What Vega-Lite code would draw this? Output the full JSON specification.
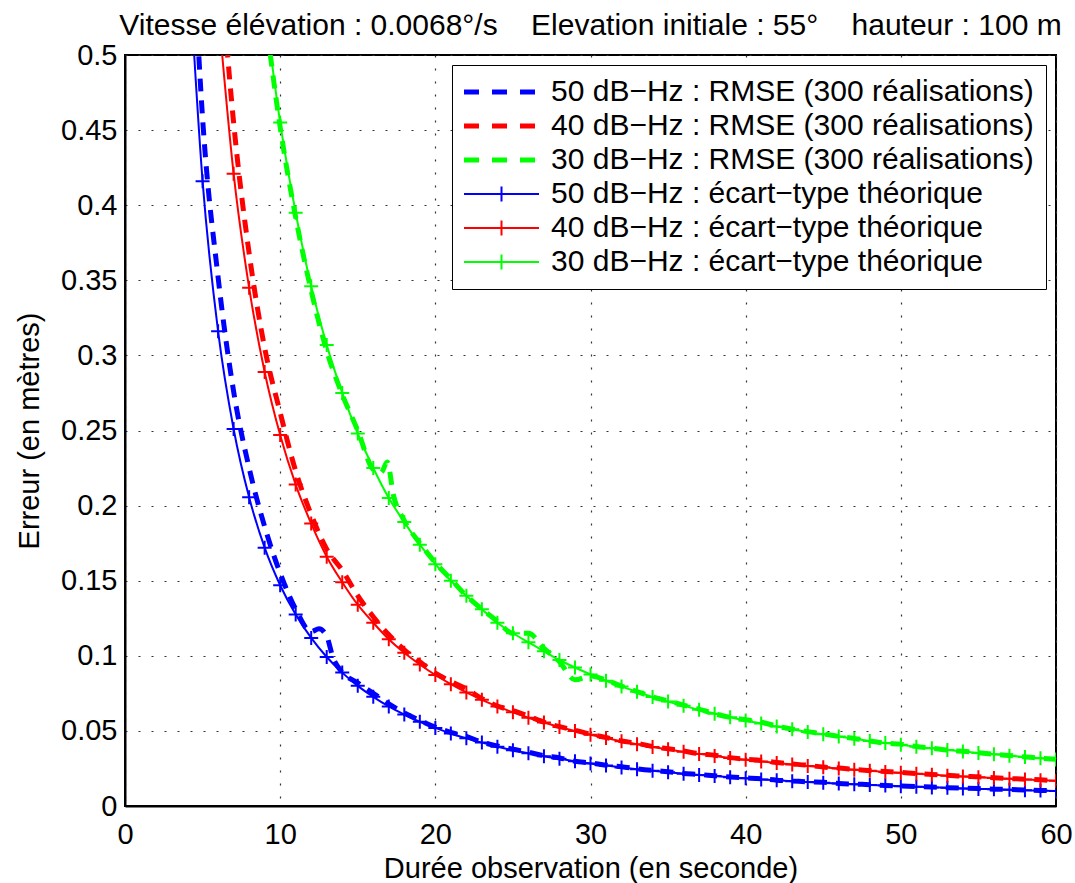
{
  "$schema": "https://vega.github.io/schema/vega-lite/v6.json",
  "width": 931,
  "height": 751,
  "autosize": {"type": "none"},
  "padding": {"left": 125, "top": 55, "right": 19, "bottom": 77},
  "background": "white",
  "title": {
    "text": "Vitesse élévation : 0.0068°/s\u00a0\u00a0\u00a0\u00a0Elevation initiale : 55°\u00a0\u00a0\u00a0\u00a0hauteur : 100 m",
    "fontSize": 30, "fontWeight": "normal", "color": "black", "offset": 0, "anchor": "middle", "limit": 0
  },
  "config": {
    "font": "Liberation Sans",
    "view": {"stroke": "black", "strokeWidth": 2}
  },
  "datasets": {
    "rmse": [
      {"t": 4, "rb": 0.66},
      {"t": 5, "rb": 0.458},
      {"t": 6, "rb": 0.352, "rr": 0.58},
      {"t": 7, "rb": 0.276, "rr": 0.455},
      {"t": 8, "rb": 0.225, "rr": 0.368},
      {"t": 9, "rb": 0.186, "rr": 0.305, "rg": 0.53},
      {"t": 10, "rb": 0.155, "rr": 0.262, "rg": 0.452},
      {"t": 11, "rb": 0.131, "rr": 0.223, "rg": 0.392},
      {"t": 12, "rb": 0.116, "rr": 0.194, "rg": 0.343},
      {"t": 12.5, "rb": 0.118},
      {"t": 13, "rb": 0.113, "rr": 0.171, "rg": 0.303},
      {"t": 13.4, "rb": 0.099},
      {"t": 14, "rb": 0.089, "rr": 0.157, "rg": 0.274},
      {"t": 15, "rb": 0.082, "rr": 0.140, "rg": 0.250},
      {"t": 16, "rb": 0.075, "rr": 0.126, "rg": 0.224},
      {"t": 16.5, "rg": 0.222},
      {"t": 16.9, "rg": 0.229},
      {"t": 17, "rb": 0.068, "rr": 0.114},
      {"t": 17.3, "rg": 0.207},
      {"t": 18, "rb": 0.062, "rr": 0.104, "rg": 0.190},
      {"t": 19, "rb": 0.057, "rr": 0.096, "rg": 0.175},
      {"t": 20, "rb": 0.0525, "rr": 0.0885, "rg": 0.162},
      {"t": 21, "rb": 0.049, "rr": 0.083, "rg": 0.151},
      {"t": 22, "rb": 0.0463, "rr": 0.078, "rg": 0.140},
      {"t": 23, "rb": 0.0425, "rr": 0.0715, "rg": 0.131},
      {"t": 24, "rb": 0.040, "rr": 0.0665, "rg": 0.123},
      {"t": 25, "rb": 0.0378, "rr": 0.0635, "rg": 0.115},
      {"t": 26, "rb": 0.0358, "rr": 0.0598, "rg": 0.115},
      {"t": 27, "rb": 0.0335, "rr": 0.0558, "rg": 0.105},
      {"t": 28, "rb": 0.032, "rr": 0.0528, "rg": 0.096},
      {"t": 29, "rb": 0.0298, "rr": 0.0505, "rg": 0.084},
      {"t": 30, "rb": 0.0287, "rr": 0.0478, "rg": 0.0865},
      {"t": 31, "rb": 0.0272, "rr": 0.0456, "rg": 0.0838},
      {"t": 32, "rb": 0.0262, "rr": 0.0433, "rg": 0.0798},
      {"t": 33, "rb": 0.0248, "rr": 0.0418, "rg": 0.0762},
      {"t": 34, "rb": 0.0237, "rr": 0.0396, "rg": 0.0726},
      {"t": 35, "rb": 0.0228, "rr": 0.0381, "rg": 0.0700},
      {"t": 36, "rb": 0.0217, "rr": 0.0366, "rg": 0.0672},
      {"t": 37, "rb": 0.0210, "rr": 0.0348, "rg": 0.0645},
      {"t": 38, "rb": 0.0201, "rr": 0.0338, "rg": 0.0614},
      {"t": 39, "rb": 0.0193, "rr": 0.0322, "rg": 0.0590},
      {"t": 40, "rb": 0.0187, "rr": 0.0311, "rg": 0.0574},
      {"t": 41, "rb": 0.0181, "rr": 0.0303, "rg": 0.0558},
      {"t": 42, "rb": 0.0172, "rr": 0.0289, "rg": 0.0532},
      {"t": 43, "rb": 0.0167, "rr": 0.0280, "rg": 0.0512},
      {"t": 44, "rb": 0.0161, "rr": 0.0271, "rg": 0.0495},
      {"t": 45, "rb": 0.0158, "rr": 0.0259, "rg": 0.0480},
      {"t": 46, "rb": 0.0150, "rr": 0.0253, "rg": 0.0463},
      {"t": 47, "rb": 0.0146, "rr": 0.0243, "rg": 0.0450},
      {"t": 48, "rb": 0.0142, "rr": 0.0236, "rg": 0.0433},
      {"t": 49, "rb": 0.0137, "rr": 0.0230, "rg": 0.0418},
      {"t": 50, "rb": 0.0134, "rr": 0.0224, "rg": 0.0412},
      {"t": 51, "rb": 0.0129, "rr": 0.0216, "rg": 0.0396},
      {"t": 52, "rb": 0.0126, "rr": 0.0210, "rg": 0.0385},
      {"t": 53, "rb": 0.0122, "rr": 0.0205, "rg": 0.0372},
      {"t": 54, "rb": 0.0119, "rr": 0.0198, "rg": 0.0364},
      {"t": 55, "rb": 0.0116, "rr": 0.0194, "rg": 0.0355},
      {"t": 56, "rb": 0.0112, "rr": 0.0188, "rg": 0.0345},
      {"t": 57, "rb": 0.0110, "rr": 0.0183, "rg": 0.0336},
      {"t": 58, "rb": 0.0107, "rr": 0.0178, "rg": 0.0327},
      {"t": 59, "rb": 0.0104, "rr": 0.0174, "rg": 0.0318},
      {"t": 60, "rb": 0.0101, "rr": 0.0169, "rg": 0.0311}
    ],
    "th": [
      {"t": 4, "tb": 0.581},
      {"t": 5, "tb": 0.416},
      {"t": 6, "tb": 0.316, "tr": 0.531},
      {"t": 7, "tb": 0.251, "tr": 0.421},
      {"t": 8, "tb": 0.2055, "tr": 0.345},
      {"t": 9, "tb": 0.172, "tr": 0.289, "tg": 0.533},
      {"t": 10, "tb": 0.147, "tr": 0.247, "tg": 0.455},
      {"t": 11, "tb": 0.1275, "tr": 0.214, "tg": 0.395},
      {"t": 12, "tb": 0.1119, "tr": 0.188, "tg": 0.346},
      {"t": 13, "tb": 0.0992, "tr": 0.166, "tg": 0.307},
      {"t": 14, "tb": 0.0888, "tr": 0.149, "tg": 0.275},
      {"t": 15, "tb": 0.0800, "tr": 0.134, "tg": 0.248},
      {"t": 16, "tb": 0.0727, "tr": 0.122, "tg": 0.225},
      {"t": 17, "tb": 0.0663, "tr": 0.111, "tg": 0.205},
      {"t": 18, "tb": 0.0609, "tr": 0.102, "tg": 0.189},
      {"t": 19, "tb": 0.0561, "tr": 0.0942, "tg": 0.174},
      {"t": 20, "tb": 0.0520, "tr": 0.0872, "tg": 0.161},
      {"t": 21, "tb": 0.0483, "tr": 0.0811, "tg": 0.150},
      {"t": 22, "tb": 0.0451, "tr": 0.0756, "tg": 0.140},
      {"t": 23, "tb": 0.0422, "tr": 0.0707, "tg": 0.131},
      {"t": 24, "tb": 0.0395, "tr": 0.0663, "tg": 0.122},
      {"t": 25, "tb": 0.0372, "tr": 0.0624, "tg": 0.115},
      {"t": 26, "tb": 0.0351, "tr": 0.0588, "tg": 0.109},
      {"t": 27, "tb": 0.0331, "tr": 0.0556, "tg": 0.103},
      {"t": 28, "tb": 0.0314, "tr": 0.0526, "tg": 0.0972},
      {"t": 29, "tb": 0.0298, "tr": 0.0499, "tg": 0.0922},
      {"t": 30, "tb": 0.0283, "tr": 0.0475, "tg": 0.0876},
      {"t": 31, "tb": 0.0269, "tr": 0.0452, "tg": 0.0834},
      {"t": 32, "tb": 0.0257, "tr": 0.0431, "tg": 0.0795},
      {"t": 33, "tb": 0.0245, "tr": 0.0411, "tg": 0.0760},
      {"t": 34, "tb": 0.0235, "tr": 0.0393, "tg": 0.0726},
      {"t": 35, "tb": 0.0225, "tr": 0.0377, "tg": 0.0695},
      {"t": 36, "tb": 0.0215, "tr": 0.0361, "tg": 0.0667},
      {"t": 37, "tb": 0.0207, "tr": 0.0347, "tg": 0.0640},
      {"t": 38, "tb": 0.0199, "tr": 0.0333, "tg": 0.0615},
      {"t": 39, "tb": 0.0191, "tr": 0.0320, "tg": 0.0591},
      {"t": 40, "tb": 0.0184, "tr": 0.0308, "tg": 0.0569},
      {"t": 41, "tb": 0.0177, "tr": 0.0297, "tg": 0.0549},
      {"t": 42, "tb": 0.0171, "tr": 0.0287, "tg": 0.0529},
      {"t": 43, "tb": 0.0165, "tr": 0.0277, "tg": 0.0511},
      {"t": 44, "tb": 0.0159, "tr": 0.0267, "tg": 0.0493},
      {"t": 45, "tb": 0.0154, "tr": 0.0258, "tg": 0.0477},
      {"t": 46, "tb": 0.0149, "tr": 0.0250, "tg": 0.0462},
      {"t": 47, "tb": 0.0144, "tr": 0.0242, "tg": 0.0447},
      {"t": 48, "tb": 0.0140, "tr": 0.0235, "tg": 0.0433},
      {"t": 49, "tb": 0.0136, "tr": 0.0227, "tg": 0.0420},
      {"t": 50, "tb": 0.0132, "tr": 0.0221, "tg": 0.0407},
      {"t": 51, "tb": 0.0128, "tr": 0.0214, "tg": 0.0395},
      {"t": 52, "tb": 0.0124, "tr": 0.0208, "tg": 0.0384},
      {"t": 53, "tb": 0.0121, "tr": 0.0202, "tg": 0.0373},
      {"t": 54, "tb": 0.0117, "tr": 0.0197, "tg": 0.0363},
      {"t": 55, "tb": 0.0114, "tr": 0.0191, "tg": 0.0353},
      {"t": 56, "tb": 0.0111, "tr": 0.0186, "tg": 0.0344},
      {"t": 57, "tb": 0.0108, "tr": 0.0181, "tg": 0.0335},
      {"t": 58, "tb": 0.0105, "tr": 0.0177, "tg": 0.0326},
      {"t": 59, "tb": 0.0103, "tr": 0.0172, "tg": 0.0318},
      {"t": 60, "tb": 0.0100, "tr": 0.0168, "tg": 0.0310}
    ],
    "xticks": [{"t": 0}, {"t": 10}, {"t": 20}, {"t": 30}, {"t": 40}, {"t": 50}, {"t": 60}],
    "yticks": [{"v": 0}, {"v": 0.05}, {"v": 0.1}, {"v": 0.15}, {"v": 0.2}, {"v": 0.25}, {"v": 0.3}, {"v": 0.35}, {"v": 0.4}, {"v": 0.45}, {"v": 0.5}]
  },
  "encoding": {
    "x": {
      "field": "t", "type": "quantitative",
      "scale": {"domain": [0, 60], "nice": false, "zero": false},
      "axis": {
        "values": [0, 10, 20, 30, 40, 50, 60],
        "grid": true, "gridDash": [2, 11], "gridColor": "#333333", "gridWidth": 1.2,
        "ticks": false,
        "domainColor": "black", "domainWidth": 2,
        "labelFontSize": 29, "labelColor": "black", "labelPadding": 14, "labelFlush": false,
        "title": "Durée observation (en seconde)", "titleFontSize": 29, "titleFontWeight": "normal", "titleColor": "black", "titlePadding": 5
      }
    },
    "y": {
      "field": "v", "type": "quantitative",
      "scale": {"domain": [0, 0.5], "nice": false},
      "axis": {
        "values": [0, 0.05, 0.1, 0.15, 0.2, 0.25, 0.3, 0.35, 0.4, 0.45, 0.5],
        "format": ".2~f",
        "grid": true, "gridDash": [2, 11], "gridColor": "#333333", "gridWidth": 1.2,
        "ticks": false,
        "domainColor": "black", "domainWidth": 2,
        "labelFontSize": 29, "labelColor": "black", "labelPadding": 8, "labelFlush": false,
        "title": "Erreur (en mètres)", "titleFontSize": 29, "titleFontWeight": "normal", "titleColor": "black", "titlePadding": 16
      }
    }
  },
  "layer": [
    {
      "data": {"name": "xticks"},
      "mark": {"type": "tick", "orient": "vertical", "size": 18, "thickness": 2, "color": "black", "clip": true, "opacity": 1},
      "encoding": {"x": {"field": "t", "type": "quantitative"}, "y": {"datum": 0}}
    },
    {
      "data": {"name": "xticks"},
      "mark": {"type": "tick", "orient": "vertical", "size": 18, "thickness": 2, "color": "black", "clip": true, "opacity": 1},
      "encoding": {"x": {"field": "t", "type": "quantitative"}, "y": {"datum": 0.5}}
    },
    {
      "data": {"name": "yticks"},
      "mark": {"type": "tick", "orient": "horizontal", "size": 18, "thickness": 2, "color": "black", "clip": true, "opacity": 1},
      "encoding": {"y": {"field": "v", "type": "quantitative"}, "x": {"datum": 0}}
    },
    {
      "data": {"name": "yticks"},
      "mark": {"type": "tick", "orient": "horizontal", "size": 18, "thickness": 2, "color": "black", "clip": true, "opacity": 1},
      "encoding": {"y": {"field": "v", "type": "quantitative"}, "x": {"datum": 60}}
    },
    {
      "data": {"name": "rmse"},
      "transform": [
        {"fold": ["rb", "rr", "rg"], "as": ["k", "v"]},
        {"filter": "isValid(datum.v)"}
      ],
      "mark": {"type": "line", "strokeDash": [13, 9], "strokeWidth": 5, "clip": true, "interpolate": "monotone", "strokeCap": "butt"},
      "encoding": {
        "color": {
          "field": "k", "type": "nominal",
          "scale": {"domain": ["rb", "rr", "rg", "tb", "tr", "tg"], "range": ["#0000ff", "#ff0000", "#00ff00", "#0000ff", "#ff0000", "#00ff00"]},
          "legend": {
            "title": null,
            "orient": "top-right",
            "offset": 10,
            "strokeColor": "black",
            "fillColor": "white",
            "padding": 12,
            "labelFontSize": 30,
            "labelColor": "black",
            "labelLimit": 900,
            "symbolSize": 900,
            "rowPadding": 4,
            "labelOffset": 57,
            "labelExpr": "datum.value == 'rb' ? '50 dB−Hz : RMSE (300 réalisations)' : datum.value == 'rr' ? '40 dB−Hz : RMSE (300 réalisations)' : datum.value == 'rg' ? '30 dB−Hz : RMSE (300 réalisations)' : datum.value == 'tb' ? '50 dB−Hz : écart−type théorique' : datum.value == 'tr' ? '40 dB−Hz : écart−type théorique' : '30 dB−Hz : écart−type théorique'",
            "encode": {
              "symbols": {
                "update": {
                  "shape": {"signal": "substring(datum.value, 0, 1) == 'r' ? 'M-1,0L4,0' : 'M-1,0L4,0M1.5,-0.5L1.5,0.5'"},
                  "strokeDash": {"signal": "substring(datum.value, 0, 1) == 'r' ? [15, 13] : [200, 1]"},
                  "strokeWidth": {"signal": "substring(datum.value, 0, 1) == 'r' ? 5 : 2"},
                  "fill": {"value": "transparent"},
                  "opacity": {"value": 1}
                }
              }
            }
          }
        }
      }
    },
    {
      "data": {"name": "th"},
      "transform": [
        {"fold": ["tb", "tr", "tg"], "as": ["k", "v"]},
        {"filter": "isValid(datum.v)"}
      ],
      "mark": {"type": "line", "strokeWidth": 2, "clip": true, "interpolate": "monotone"},
      "encoding": {
        "color": {"field": "k", "type": "nominal"}
      }
    },
    {
      "data": {"name": "th"},
      "transform": [
        {"fold": ["tb", "tr", "tg"], "as": ["k", "v"]},
        {"filter": "isValid(datum.v)"}
      ],
      "mark": {"type": "point", "shape": "M-1,0L1,0M0,-1L0,1", "size": 196, "filled": false, "strokeWidth": 2, "opacity": 1, "clip": true},
      "encoding": {
        "color": {"field": "k", "type": "nominal"}
      }
    }
  ]
}
